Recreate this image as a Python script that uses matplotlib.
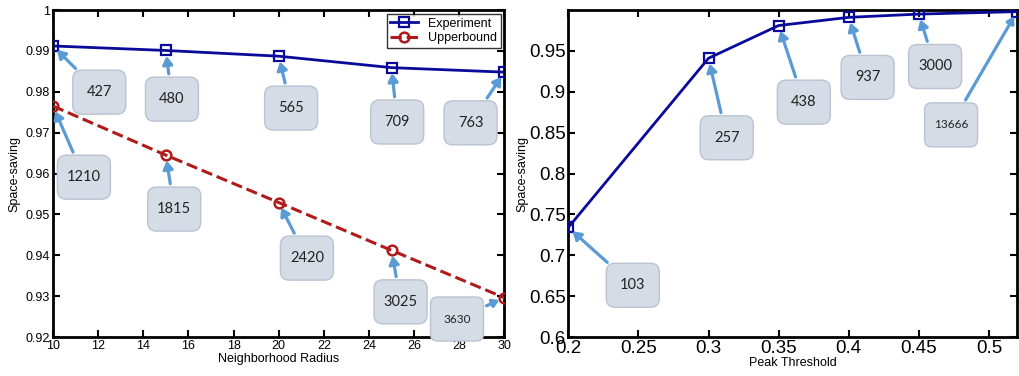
import matplotlib
matplotlib.use("Agg")
import matplotlib.pyplot as plt
from matplotlib.patches import BoxStyle

plt.rcParams['font.family'] = ['Liberation Sans', 'DejaVu Sans']

# left panel: neighborhood radius
radius = [10, 15, 20, 25, 30]
experiment = [0.9912, 0.9901, 0.9887, 0.9859, 0.9848]
upperbound = [0.9765, 0.9645, 0.9529, 0.9412, 0.9296]
exp_labels = ["427", "480", "565", "709", "763"]
ub_labels = ["1210", "1815", "2420", "3025", "3630"]

# right panel: peak threshold
threshold = [0.2, 0.3, 0.35, 0.4, 0.45, 0.52]
saving = [0.734, 0.941, 0.981, 0.991, 0.995, 0.998]
thr_labels = ["103", "257", "438", "937", "3000", "13666"]

# where the callout boxes sit (data coords)
exp_box = [(12.05, 0.9799), (15.27, 0.9782), (20.55, 0.9760), (25.25, 0.9726), (28.5, 0.9724)]
ub_box = [(11.37, 0.9591), (15.37, 0.9513), (21.25, 0.9393), (25.4, 0.9286), (27.9, 0.9244)]
thr_box = [(0.246, 0.6633), (0.313, 0.8437), (0.368, 0.8873), (0.4135, 0.9175), (0.4616, 0.9309), (0.473, 0.8595)]


class FixedRound:
    # rounded box of fixed pixel size, centred on the text
    def __init__(self, w=53, h=44):
        self.w = w
        self.h = h
        self.rnd = BoxStyle.Round(pad=0, rounding_size=0.6)

    def __call__(self, x0, y0, width, height, mutation_size):
        cx = x0 + width / 2
        cy = y0 + height / 2
        return self.rnd(cx - self.w / 2, cy - self.h / 2, self.w, self.h, mutation_size)


arrow_style = dict(arrowstyle="-|>,head_length=0.45,head_width=0.28", color="#5b9bd5", lw=2.3, shrinkA=2, shrinkB=4)


def callout(ax, text, xy, xytext, size=10.5):
    ax.annotate(text, xy=xy, xytext=xytext, ha="center", va="center",
                fontsize=size, family="Lato", color="#222222",
                bbox=dict(boxstyle=FixedRound(), fc="#d6dce5", ec="#b9c3d2", lw=1),
                arrowprops=arrow_style, zorder=5)


def matlab_axes(ax):
    ax.tick_params(direction="in", top=True, right=True, length=5, width=1.5)
    for s in ax.spines.values():
        s.set_linewidth(2)


fig = plt.figure(figsize=(10.19, 3.76), dpi=100)
ax1 = fig.add_axes([0.052, 0.1037, 0.443, 0.8697])
ax2 = fig.add_axes([0.5577, 0.1037, 0.4403, 0.8697])

# ---- left
ax1.plot(radius, experiment, "-s", color="#0a0a9a", lw=2, ms=7, mfc="none", mew=1.6, label="Experiment", zorder=4)
ax1.plot(radius, upperbound, "--o", color="#b01a1a", lw=2.2, ms=7, mfc="none", mew=1.8, label="Upperbound", zorder=4)
ax1.set_xlim(10, 30)
ax1.set_ylim(0.92, 1.0)
ax1.set_xticks(range(10, 31, 2))
yt = [0.92, 0.93, 0.94, 0.95, 0.96, 0.97, 0.98, 0.99, 1.0]
ax1.set_yticks(yt)
ax1.set_yticklabels(["%g" % v for v in yt])
ax1.tick_params(labelsize=9, pad=2)
matlab_axes(ax1)
ax1.set_xlabel("Neighborhood Radius", fontsize=9, labelpad=1)
ax1.set_ylabel("Space-saving", fontsize=9, labelpad=4)
leg = ax1.legend(loc="upper right", fontsize=9, frameon=True, fancybox=False,
                 edgecolor="black", borderpad=0.3, labelspacing=0.2, handlelength=2.2,
                 borderaxespad=0.3)
leg.get_frame().set_linewidth(1)

for i in range(len(radius)):
    callout(ax1, exp_labels[i], (radius[i], experiment[i]), exp_box[i])
    callout(ax1, ub_labels[i], (radius[i], upperbound[i]), ub_box[i], size=10.5 if i < 4 else 8.5)

# ---- right
ax2.plot(threshold, saving, "-s", color="#0a0a9a", lw=2, ms=7, mfc="none", mew=1.6, zorder=4)
ax2.set_xlim(0.2, 0.52)
ax2.set_ylim(0.6, 1.0)
xt = [0.2, 0.25, 0.3, 0.35, 0.4, 0.45, 0.5]
ax2.set_xticks(xt)
ax2.set_xticklabels(["%g" % v for v in xt])
yt2 = [0.6, 0.65, 0.7, 0.75, 0.8, 0.85, 0.9, 0.95]
ax2.set_yticks(yt2)
ax2.set_yticklabels(["%g" % v for v in yt2])
ax2.tick_params(labelsize=13.5, pad=2)
matlab_axes(ax2)
ax2.set_xlabel("Peak Threshold", fontsize=9, labelpad=0)
ax2.set_ylabel("Space-saving", fontsize=9, labelpad=0)

for i in range(len(threshold)):
    callout(ax2, thr_labels[i], (threshold[i], saving[i]), thr_box[i], size=10.5 if i < 5 else 8.5)

fig.savefig("out.png", dpi=100)
